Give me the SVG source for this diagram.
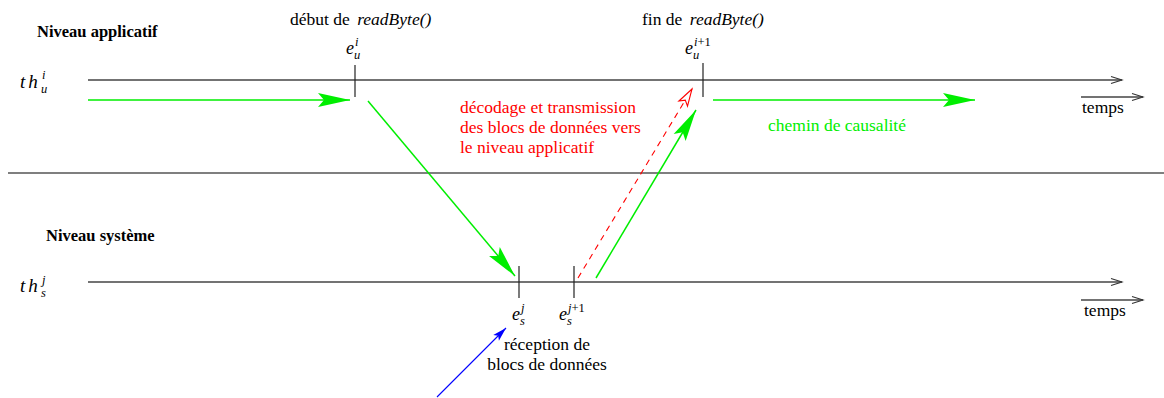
<svg xmlns="http://www.w3.org/2000/svg" width="1164" height="398" viewBox="0 0 1164 398" font-family="'Liberation Serif', 'DejaVu Serif', 'Times New Roman', serif">
<defs>
<style>
text{font-family:'Liberation Serif','DejaVu Serif','Times New Roman',serif;font-size:17.5px;fill:#000}
.b{font-weight:bold;font-size:16.5px}
.m{font-style:italic;font-size:18px}
.th{font-style:italic;font-size:19px;letter-spacing:3px}
.s{font-style:italic;font-size:12.5px}
.sn{font-size:12.5px;font-style:normal}
.red{fill:#ff0000}
.grn{fill:#00ee00}
.axis{stroke:#444;stroke-width:1.3;fill:none}
.tick{stroke:#222;stroke-width:1.2}
.g{stroke:#00ee00;stroke-width:1.5;fill:none}
</style>
<marker id="ah" markerUnits="userSpaceOnUse" markerWidth="12" markerHeight="8" refX="11" refY="4" orient="auto" overflow="visible">
<path d="M0,0.5 L11,4 L0,7.5" fill="none" stroke="#333" stroke-width="1.1"/>
</marker>
<marker id="gh" markerUnits="userSpaceOnUse" markerWidth="32" markerHeight="14" refX="32" refY="7" orient="auto" overflow="visible">
<path d="M0,0 L32,7 L0,14 L6,7 z" fill="#00ee00"/>
</marker>
<marker id="rh" markerUnits="userSpaceOnUse" markerWidth="17" markerHeight="10" refX="17" refY="5" orient="auto" overflow="visible">
<path d="M0,0 L17,5 L0,10 L4,5 z" fill="#fff" stroke="#ff0000" stroke-width="1.1"/>
</marker>
<marker id="bh" markerUnits="userSpaceOnUse" markerWidth="14" markerHeight="8" refX="14" refY="4" orient="auto" overflow="visible">
<path d="M0,0 L14,4 L0,8 L3,4 z" fill="#0000ff"/>
</marker>
</defs>

<g id="separator">
<line x1="8" y1="173" x2="1164" y2="173" stroke="#555" stroke-width="1.5"/>
</g>

<g id="level-app">
<text class="b" x="37" y="37">Niveau applicatif</text>
</g>
<g id="level-sys">
<text class="b" x="46" y="241">Niveau système</text>
</g>

<g id="thread-u">
<text class="th" x="20" y="88">th</text>
<text class="s" x="42" y="79">i</text>
<text class="s" x="41" y="93">u</text>
<line class="axis" x1="88" y1="80" x2="1122" y2="80" marker-end="url(#ah)"/>
<line class="axis" x1="1081" y1="97" x2="1143" y2="97" marker-end="url(#ah)"/>
<text x="1082" y="113">temps</text>
</g>

<g id="thread-s">
<text class="th" x="20" y="292">th</text>
<text class="s" x="42" y="284">j</text>
<text class="s" x="41" y="297">s</text>
<line class="axis" x1="88" y1="282" x2="1122" y2="282" marker-end="url(#ah)"/>
<line class="axis" x1="1081" y1="300" x2="1143" y2="300" marker-end="url(#ah)"/>
<text x="1084" y="316">temps</text>
</g>

<g id="event-eu-i">
<text x="290" y="25">début de <tspan font-style="italic" dx="3">readByte()</tspan></text>
<text class="m" x="346" y="54">e</text>
<text class="s" x="355" y="46">i</text>
<text class="s" x="354" y="59">u</text>
<line class="tick" x1="355" y1="65" x2="355" y2="97"/>
</g>

<g id="event-eu-i1">
<text x="642" y="25">fin de <tspan font-style="italic" dx="3">readByte()</tspan></text>
<text class="m" x="685" y="54">e</text>
<text class="s" x="694" y="46">i<tspan class="sn">+1</tspan></text>
<text class="s" x="693" y="59">u</text>
<line class="tick" x1="703" y1="63" x2="703" y2="97"/>
</g>

<g id="event-es-j">
<line class="tick" x1="519" y1="266" x2="519" y2="298"/>
<text class="m" x="512" y="320">e</text>
<text class="s" x="521" y="312">j</text>
<text class="s" x="520" y="325">s</text>
</g>

<g id="event-es-j1">
<line class="tick" x1="574" y1="266" x2="574" y2="298"/>
<text class="m" x="559" y="320">e</text>
<text class="s" x="568" y="312">j<tspan class="sn">+1</tspan></text>
<text class="s" x="567" y="325">s</text>
</g>

<g id="reception">
<text x="547" y="350" text-anchor="middle">réception de</text>
<text x="547" y="370" text-anchor="middle">blocs de données</text>
</g>

<g id="decodage">
<text class="red" x="460" y="113">décodage et transmission</text>
<text class="red" x="460" y="133">des blocs de données vers</text>
<text class="red" x="460" y="153">le niveau applicatif</text>
</g>

<g id="causalite">
<text class="grn" x="768" y="131">chemin de causalité</text>
</g>

<g id="connectors">
<line class="g" x1="88" y1="100" x2="350" y2="100" marker-end="url(#gh)"/>
<line class="g" x1="368" y1="101" x2="515" y2="276" marker-end="url(#gh)"/>
<line class="g" x1="596" y1="278" x2="696" y2="110" marker-end="url(#gh)"/>
<line class="g" x1="713" y1="100" x2="975" y2="100" marker-end="url(#gh)"/>
<line x1="578" y1="278" x2="692" y2="89" stroke="#ff0000" stroke-width="1.1" stroke-dasharray="6,5" marker-end="url(#rh)"/>
<line x1="437" y1="397" x2="506" y2="328" stroke="#0000ff" stroke-width="1.1" marker-end="url(#bh)"/>
</g>
</svg>
